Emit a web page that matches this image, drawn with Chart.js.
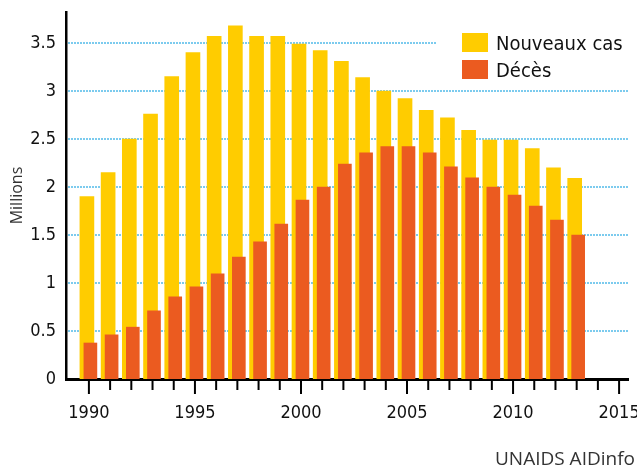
<!DOCTYPE html>
<html>
<head>
<meta charset="utf-8">
<script src="https://cdn.jsdelivr.net/npm/chart.js@4.4.1/dist/chart.umd.min.js"></script>
<style>
  body { margin: 0; background: #fff; }
  #wrap { position: relative; width: 637px; height: 468px; }
  #legend {
    position: absolute; left: 462px; top: 29px;
    font: 20px "Liberation Sans Narrow", "DejaVu Sans Condensed", "Liberation Sans", sans-serif;
    color: #111;
  }
  .row { display: flex; align-items: center; height: 27px; }
  .swatch { width: 26px; height: 19px; margin-right: 8px; }
  #source {
    position: absolute; right: 2px; top: 445px;
    font: 19px "Open Sans", sans-serif; color: #333;
  }
</style>
</head>
<body>
<div id="wrap">
  <canvas id="chart" width="637" height="468"></canvas>
  <div id="legend">
    <div class="row"><span class="swatch" style="background:#ffcc00"></span>Nouveaux cas</div>
    <div class="row"><span class="swatch" style="background:#eb5b20"></span>Décès</div>
  </div>
  <div id="source">UNAIDS AIDinfo</div>
</div>
<script>
// millions of people per year
const years = [1990, 1991, 1992, 1993, 1994, 1995, 1996, 1997, 1998, 1999, 2000, 2001,
  2002, 2003, 2004, 2005, 2006, 2007, 2008, 2009, 2010, 2011, 2012, 2013];
const newCases = [1.9, 2.15, 2.5, 2.76, 3.15, 3.4, 3.57, 3.68, 3.57, 3.57, 3.49, 3.42,
  3.31, 3.14, 3.0, 2.92, 2.8, 2.72, 2.59, 2.49, 2.49, 2.4, 2.2, 2.09];
const deaths = [0.375, 0.46, 0.54, 0.71, 0.855, 0.96, 1.095, 1.27, 1.43, 1.615, 1.865, 2.0,
  2.24, 2.355, 2.42, 2.42, 2.355, 2.21, 2.095, 2.0, 1.915, 1.8, 1.655, 1.5];

const yTickValues = [0, 0.5, 1, 1.5, 2, 2.5, 3, 3.5];
const xLabelYears = [1990, 1995, 2000, 2005, 2010, 2015];

const xMin = 1988.92;
const xMax = 2015.42;
// the two series overlap: yellow sits a bit left of the year, orange a bit right
const newCasesShift = 0.094;
const deathsShift = 0.07;

const tickFont = { family: '"Liberation Sans Narrow", "DejaVu Sans Condensed", "Liberation Sans", sans-serif', size: 18 };

// dotted blue lines behind the bars, the top one stops short of the legend
const dottedGrid = {
  id: 'dottedGrid',
  beforeDatasetsDraw(chart) {
    const { ctx, chartArea, scales } = chart;
    const legendLeft = document.getElementById('legend').offsetLeft;
    const top = yTickValues[yTickValues.length - 1];
    ctx.save();
    ctx.strokeStyle = '#7ccbee';
    ctx.lineWidth = 2;
    ctx.setLineDash([2, 1]);
    yTickValues.forEach((v) => {
      if (v === 0) return;
      const y = Math.round(scales.y.getPixelForValue(v));
      const right = v === top ? legendLeft - 25 : chartArea.right;
      ctx.beginPath();
      ctx.moveTo(chartArea.left + 2, y);
      ctx.lineTo(right, y);
      ctx.stroke();
    });
    ctx.restore();
  },
};

// a tick under every year, longer ones on the labelled years
const yearTicks = {
  id: 'yearTicks',
  afterDraw(chart) {
    const { ctx, chartArea, scales } = chart;
    ctx.save();
    ctx.strokeStyle = '#000';
    ctx.lineWidth = 2;
    for (let yr = xLabelYears[0]; yr <= xLabelYears[xLabelYears.length - 1]; yr++) {
      const x = scales.x.getPixelForValue(yr);
      const len = yr % 5 === 0 ? 15 : 11;
      ctx.beginPath();
      ctx.moveTo(x, chartArea.bottom);
      ctx.lineTo(x, chartArea.bottom + len);
      ctx.stroke();
    }
    ctx.restore();
  },
};

new Chart(document.getElementById('chart'), {
  type: 'bar',
  data: {
    datasets: [
      {
        label: 'Nouveaux cas',
        data: years.map((yr, i) => ({ x: yr, y: newCases[i] })),
        backgroundColor: '#ffcc00',
        barThickness: 14,
        grouped: false,
        xAxisID: 'xNew',
        order: 1,
      },
      {
        label: 'Décès',
        data: years.map((yr, i) => ({ x: yr, y: deaths[i] })),
        backgroundColor: '#eb5b20',
        barThickness: 13,
        grouped: false,
        xAxisID: 'xDeaths',
        order: 0,
      },
    ],
  },
  options: {
    responsive: false,
    animation: false,
    layout: { padding: { top: 12, right: 9, left: 0, bottom: 0 } },
    plugins: {
      legend: { display: false },
      tooltip: { enabled: false },
    },
    scales: {
      x: {
        type: 'linear',
        min: xMin,
        max: xMax,
        offset: false,
        grid: { display: false, drawTicks: false },
        border: { color: '#000', width: 3 },
        afterBuildTicks: (scale) => {
          scale.ticks = xLabelYears.map((v) => ({ value: v }));
        },
        ticks: { padding: 24, font: tickFont, color: '#111', maxRotation: 0, callback: (v) => String(v) },
        afterFit: (scale) => {
          scale.height = 89;
          scale.paddingLeft = 0;
          scale.paddingRight = 0;
        },
      },
      xNew: { type: 'linear', display: false, offset: false, min: xMin + newCasesShift, max: xMax + newCasesShift },
      xDeaths: { type: 'linear', display: false, offset: false, min: xMin - deathsShift, max: xMax - deathsShift },
      y: {
        min: 0,
        max: 3.823,
        grid: { display: false, drawTicks: false },
        border: { color: '#000', width: 2.5 },
        afterBuildTicks: (scale) => {
          scale.ticks = yTickValues.map((v) => ({ value: v }));
        },
        ticks: { padding: 10, font: tickFont, color: '#111', callback: (v) => String(v) },
        title: {
          display: true,
          text: 'Millions',
          color: '#333',
          font: { family: '"Open Sans", sans-serif', size: 16 },
          padding: { top: 8, bottom: 0 },
        },
        afterFit: (scale) => {
          scale.width = 66;
          scale.paddingTop = 0;
          scale.paddingBottom = 0;
        },
      },
    },
  },
  plugins: [dottedGrid, yearTicks],
});
</script>
</body>
</html>
